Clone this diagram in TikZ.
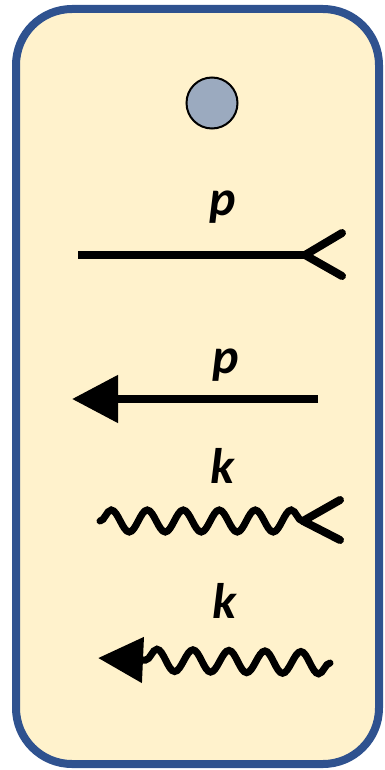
\documentclass[tikz,border=0pt]{standalone}
\usepackage{fontspec}
\setmainfont{Carlito}
\definecolor{CardFill}{RGB}{255, 242, 204}
\definecolor{CardEdge}{RGB}{47, 82, 143}
\definecolor{DotGrey}{RGB}{155, 170, 191}
\usetikzlibrary{arrows.meta, decorations.pathmorphing}

\begin{document}
\begin{tikzpicture}[x=1pt, y=-1pt, line width=8pt,
    every node/.style={font=\fontsize{50}{54}\selectfont\bfseries\itshape, inner sep=0pt, anchor=base},
    wave/.style={line width=7pt, decorate, decoration={snake, amplitude=11pt, segment length=36pt}, line cap=round},
    barb/.style={line cap=round, line join=round}]
    \useasboundingbox (0,0) rectangle (385,770);
    % Card
    \draw[CardEdge, fill=CardFill, rounded corners=56pt] (16,9) rectangle (379,764);
    \node[draw, circle, fill=DotGrey, line width=2pt, minimum size=51pt, anchor=center] (dot) at (212,103) {};
    % Fermion line, open tip
    \node (p1) at (223,215) {p};
    \coordinate (f1l) at (78,255);
    \coordinate (f1t) at (305,255);
    \draw (f1l) -- (f1t);
    \draw[barb] (342,233) -- (f1t) -- (342,276);
    % Fermion line, filled tip
    \node (p2) at (226,373) {p};
    \coordinate (f2r) at (318,399);
    \coordinate (f2l) at (72,399);
    \draw[-{Triangle[length=46pt, width=46pt]}] (f2r) -- (f2l);
    % Photon line, open tip
    \node (k1) at (222,483) {k};
    \coordinate (w1l) at (100,521);
    \coordinate (w1t) at (303,521);
    \draw[wave] (w1l) -- (w1t);
    \draw[barb] (340,500) -- (w1t) -- (340,540);
    % Photon line, filled tip
    \node (k2) at (224,618) {k};
    \coordinate (w2r) at (330,663);
    \coordinate (w2b) at (143,660);
    \coordinate (w2t) at (98,658);
    \draw[wave] (w2r) -- (w2b);
    \draw[-{Triangle[length=45pt, width=44pt]}] (w2b) -- (w2t);
\end{tikzpicture}
\end{document}
